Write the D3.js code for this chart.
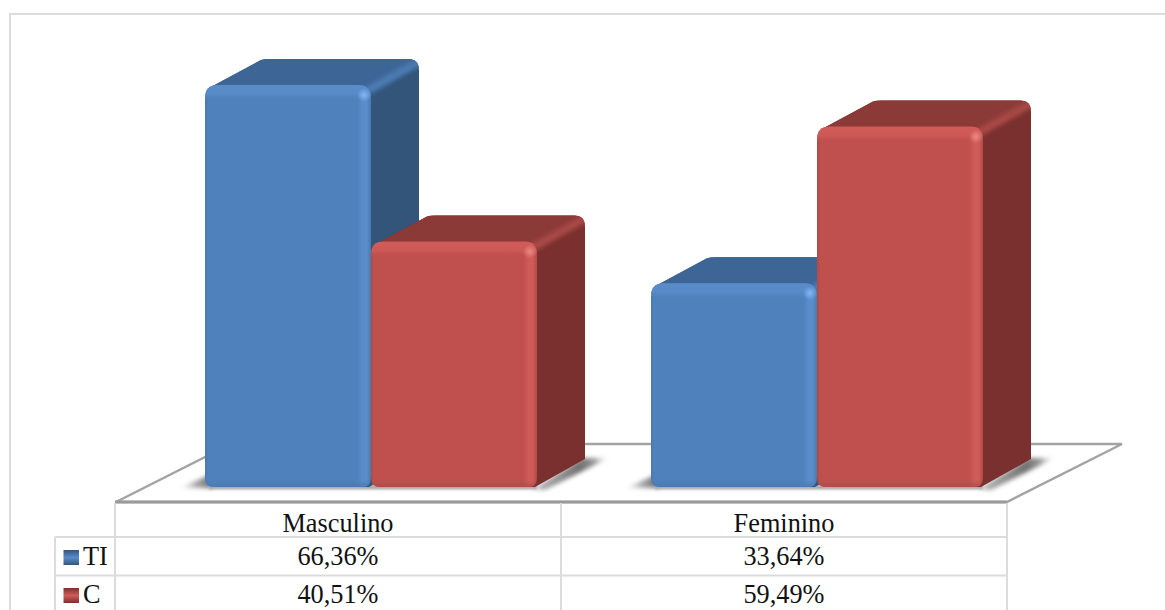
<!DOCTYPE html>
<html>
<head>
<meta charset="utf-8">
<script src="https://cdn.jsdelivr.net/npm/d3@7"></script>
<style>
  html, body { margin: 0; padding: 0; background: #fff; overflow: hidden; }
  svg { display: block; }
  text { font-family: "Liberation Serif", "Times New Roman", serif; fill: #111; font-size: 26.3px; }
</style>
</head>
<body>
<svg id="chart" width="1165" height="610"></svg>
<script>
// Share of each group by sex
const categories = ["Masculino", "Feminino"];
const seriesNames = ["TI", "C"];
const valuesTI = [66.36, 33.64];
const valuesC = [40.51, 59.49];
const labelsTI = ["66,36%", "33,64%"];
const labelsC = ["40,51%", "59,49%"];

const palette = {
  TI: { face: "#4f81bd", light: "#5a8cca", edge: "#4a79b0", top: "#3d6596", ridge: "#4c7cb3", side: "#335579", spark: "#82b6f5" },
  C:  { face: "#c0504d", light: "#d05b58", edge: "#b04a47", top: "#8c3a38", ridge: "#a84a47", side: "#7a302e", spark: "#ec8a85" }
};

const svg = d3.select("#chart");
const defs = svg.append("defs");

// Plot frame and extrusion of the 3D columns
const tableLeft = 115, tableRight = 1007, legendLeft = 55;
const floorY = 502, baseY = 487, depthX = 48, depthTop = 26, depthBase = 28, radius = 13;

const x = d3.scaleBand().domain(categories).range([tableLeft, tableRight]);
const xInner = d3.scaleBand().domain(seriesNames).range([90, 422]);
const y = d3.scaleLinear().domain([0, 66.36]).range([baseY, 85]);

function softFilter(id, deviation) {
  defs.append("filter").attr("id", id)
    .attr("x", "-40%").attr("y", "-60%").attr("width", "180%").attr("height", "220%")
    .append("feGaussianBlur").attr("stdDeviation", deviation);
}
softFilter("soft", 2);
softFilter("softSmall", 1.2);
softFilter("softRidge", 2.2);

function gradient(id, stops, vertical) {
  const g = defs.append("linearGradient").attr("id", id);
  if (vertical) g.attr("x2", 0).attr("y2", 1);
  stops.forEach(([o, col, op]) => g.append("stop").attr("offset", o)
    .attr("stop-color", col).attr("stop-opacity", op === undefined ? 1 : op));
}

gradient("shadowRight", [[0, "#bbb"], [0.62, "#707070"], [0.8, "#999"], [1, "#ccc", 0]]);
gradient("shadowLeft", [[0, "#ccc", 0], [0.45, "#b5b5b5"], [1, "#666"]]);

// Bevel gradients shared by every column of a series
seriesNames.forEach(name => {
  const c = palette[name];
  gradient("bevelX" + name, [[0, c.edge], [0.02, c.face], [0.915, c.face], [0.95, c.light], [0.975, c.light], [1, c.edge]]);
  gradient("bevelTop" + name, [[0, c.light], [0.55, c.light, 0.85], [1, c.face, 0]], true);
  gradient("bevelBottom" + name, [[0, c.edge, 0], [1, c.edge, 0.8]], true);
  const s = defs.append("radialGradient").attr("id", "spark" + name);
  s.append("stop").attr("offset", 0).attr("stop-color", c.spark);
  s.append("stop").attr("offset", 1).attr("stop-color", c.spark).attr("stop-opacity", 0);
  gradient("key" + name, [[0, c.side], [0.5, c.light], [1, c.side]], true);
});

// Outer chart border; it bleeds off the right and lower edges
svg.append("path").attr("d", d3.line()([[10, 630], [10, 14], [1175, 14]]))
  .attr("fill", "none").attr("stroke", "#dcdcdc").attr("stroke-width", 2);

// Floor plane
const floorPts = [
  [tableLeft + 1, floorY], [tableRight, floorY],
  [tableRight + 115, floorY - 58], [tableLeft + 116, floorY - 58]
];
svg.append("polygon").attr("points", floorPts.join(" "))
  .attr("fill", "#fff").attr("stroke", "#a3a3a3").attr("stroke-width", 2.4).attr("stroke-linejoin", "miter");
svg.append("line").attr("x1", tableLeft).attr("x2", tableRight).attr("y1", floorY).attr("y2", floorY)
  .attr("stroke", "#9a9a9a").attr("stroke-width", 3);

// Flatten to one record per column, drawn back to front
const columns = categories.flatMap((cat, i) => [
  { cat, series: "TI", value: valuesTI[i] },
  { cat, series: "C", value: valuesC[i] }
]);

function rounded(x0, y0, x1, y1, r, rb) {
  const p = d3.path();
  p.moveTo(x0 + r, y0);
  p.lineTo(x1 - r, y0);
  p.quadraticCurveTo(x1, y0, x1, y0 + r);
  p.lineTo(x1, y1 - rb);
  p.quadraticCurveTo(x1, y1, x1 - rb, y1);
  p.lineTo(x0 + rb, y1);
  p.quadraticCurveTo(x0, y1, x0, y1 - rb);
  p.lineTo(x0, y0 + r);
  p.quadraticCurveTo(x0, y0, x0 + r, y0);
  p.closePath();
  return p.toString();
}

const shadows = svg.append("g");
const bars = svg.append("g");

columns.forEach((d, i) => {
  const c = palette[d.series];
  const x0 = x(d.cat) + xInner(d.series);
  const x1 = x0 + xInner.bandwidth();
  const yTop = y(d.value);
  const bx = x1 + depthX, by = yTop - depthTop;
  const backBase = baseY - depthBase;

  // Cast shadow on the floor
  if (d.series === "TI") {
    shadows.append("polygon")
      .attr("points", [[x0 - 26, baseY + 1], [x0 + 4, baseY - 12], [x0 + 8, baseY + 1]].join(" "))
      .attr("fill", "url(#shadowLeft)").attr("filter", "url(#soft)");
  } else {
    shadows.append("polygon")
      .attr("points", [[x1 - 4, baseY + 2], [bx - 2, backBase - 1], [bx + 24, backBase - 1], [x1 + 8, baseY + 3]].join(" "))
      .attr("fill", "url(#shadowRight)").attr("filter", "url(#soft)");
    shadows.append("rect").attr("x", x(d.cat) + xInner("TI") + 4).attr("y", baseY - 2)
      .attr("width", x1 - x(d.cat) - xInner("TI") - 4).attr("height", 4.5)
      .attr("fill", "#aaa").attr("filter", "url(#softSmall)");
  }

  const g = bars.append("g");

  // Silhouette of the hidden faces, painted with the side colour
  const sil = d3.path();
  sil.moveTo(x0 + 4, yTop + 3);
  sil.lineTo(x0 + depthX + 8, by + 1);
  sil.quadraticCurveTo(x0 + depthX + 11, by, x0 + depthX + 16, by);
  sil.lineTo(bx - 11, by);
  sil.quadraticCurveTo(bx, by, bx, by + 11);
  sil.lineTo(bx, backBase);
  sil.lineTo(x1 - 2, baseY);
  sil.lineTo(x0 + 10, baseY);
  sil.closePath();
  const silId = "hidden" + i;
  defs.append("clipPath").attr("id", silId).append("path").attr("d", sil.toString());
  g.append("path").attr("d", sil.toString()).attr("fill", c.side);

  const hidden = g.append("g").attr("clip-path", `url(#${silId})`);
  // Top face
  hidden.append("polygon")
    .attr("points", [[x0 - 10, yTop + 10], [x0 + depthX, by - 6], [bx + 8, by - 6], [x1, yTop + 5]].join(" "))
    .attr("fill", c.top);
  // Lit ridge between top and side faces
  hidden.append("line")
    .attr("x1", x1 - 2).attr("y1", yTop + 5).attr("x2", bx - 2).attr("y2", by + 4)
    .attr("stroke", c.ridge).attr("stroke-width", 8).attr("stroke-linecap", "round")
    .attr("filter", "url(#softRidge)");

  // Front face with its bevels
  const clipId = "front" + i;
  const frontPath = rounded(x0, yTop, x1, baseY, radius, 9);
  defs.append("clipPath").attr("id", clipId).append("path").attr("d", frontPath);
  g.append("path").attr("d", frontPath).attr("fill", `url(#bevelX${d.series})`);
  const inner = g.append("g").attr("clip-path", `url(#${clipId})`);
  inner.append("rect").attr("x", x0).attr("y", yTop).attr("width", x1 - x0).attr("height", 16)
    .attr("fill", `url(#bevelTop${d.series})`);
  inner.append("rect").attr("x", x0).attr("y", baseY - 7).attr("width", x1 - x0).attr("height", 7)
    .attr("fill", `url(#bevelBottom${d.series})`);
  inner.append("circle").attr("cx", x1 - 7).attr("cy", yTop + 10).attr("r", 7)
    .attr("fill", `url(#spark${d.series})`);
});

// Data table under the plot
const tableGrid = svg.append("g").attr("stroke", "#dcdcdc").attr("stroke-width", 2).attr("fill", "none");
const rowRules = [537, 575.5];
rowRules.forEach(ry => tableGrid.append("line")
  .attr("x1", legendLeft).attr("x2", tableRight).attr("y1", ry).attr("y2", ry));
[tableLeft, x(categories[1]), tableRight].forEach(vx => tableGrid.append("line")
  .attr("x1", vx).attr("x2", vx).attr("y1", floorY + 1).attr("y2", 610));
tableGrid.append("line").attr("x1", legendLeft).attr("x2", legendLeft)
  .attr("y1", rowRules[0]).attr("y2", 610);

const cx = cat => x(cat) + x.bandwidth() / 2;
categories.forEach((cat, i) => {
  svg.append("text").attr("x", cx(cat)).attr("y", 532).attr("text-anchor", "middle").text(cat);
  svg.append("text").attr("x", cx(cat)).attr("y", 565).attr("text-anchor", "middle").text(labelsTI[i]);
  svg.append("text").attr("x", cx(cat)).attr("y", 603).attr("text-anchor", "middle").text(labelsC[i]);
});

// Legend keys in the first table column
const rowBaselines = { TI: 565, C: 603 };
seriesNames.forEach(name => {
  const ky = rowBaselines[name] - 15;
  svg.append("rect").attr("x", 63.5).attr("y", ky).attr("width", 15.5).attr("height", 15)
    .attr("fill", `url(#key${name})`);
  svg.append("text").attr("x", 83).attr("y", rowBaselines[name]).text(name);
});
</script>
</body>
</html>
